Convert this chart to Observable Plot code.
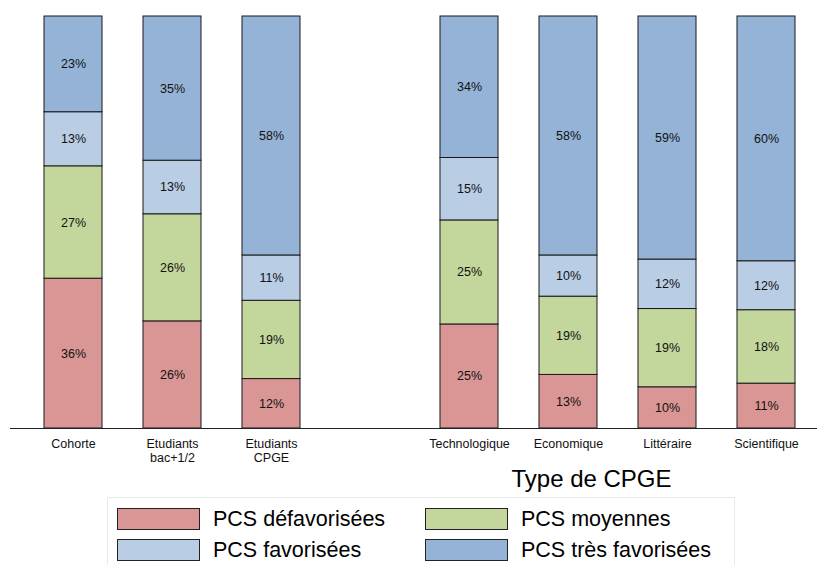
<!DOCTYPE html>
<html>
<head>
<meta charset="utf-8">
<script src="https://cdn.jsdelivr.net/npm/d3@7"></script>
<script src="https://cdn.jsdelivr.net/npm/@observablehq/plot@0.6"></script>
<style>
  body { margin: 0; background: #fff; font-family: "Liberation Sans", Arial, Helvetica, sans-serif; }
  #chart svg { display: block; }
  .legend {
    position: relative;
    margin-left: 107px; margin-top: 2px;
    width: 628px; height: 80px;
    border: 1px solid #e6ecec; box-sizing: border-box;
    display: grid; grid-template-columns: 308px 308px;
    grid-auto-rows: 31px; padding: 10px 0 0 9px;
    font-size: 21.5px; color: #000;
  }
  .legend .item { display: flex; align-items: center; height: 22px; }
  .legend .sw { width: 83px; height: 22px; box-sizing: border-box; border: 1px solid #222; margin-right: 13px; flex: none; }
</style>
</head>
<body>
<div id="chart"></div>
<script>
const categories = ["Cohorte", "Etudiants bac+1/2", "Etudiants CPGE", "Technologique", "Economique", "Littéraire", "Scientifique"];
const tickLabels = ["Cohorte", "Etudiants\nbac+1/2", "Etudiants\nCPGE", "Technologique", "Economique", "Littéraire", "Scientifique"];
const series = ["PCS défavorisées", "PCS moyennes", "PCS favorisées", "PCS très favorisées"];
const colors = ["#D99694", "#C3D69B", "#B9CDE5", "#95B3D7"];
const defavorisees = [36, 26, 12, 25, 13, 10, 11];
const moyennes = [27, 26, 19, 25, 19, 19, 18];
const favorisees = [13, 13, 11, 15, 10, 12, 12];
const tresFavorisees = [23, 35, 58, 34, 58, 59, 60];
const groupTitle = "Type de CPGE";

const values = [defavorisees, moyennes, favorisees, tresFavorisees];
const data = [];
categories.forEach((c, i) => {
  series.forEach((s, j) => data.push({category: c, series: s, value: values[j][i]}));
});

// placeholder slot for the gap between the two groups
const xDomain = [...categories.slice(0, 3), " ", ...categories.slice(3)];
const labelOf = new Map(categories.map((c, i) => [c, tickLabels[i]]));

const chart = Plot.plot({
  width: 817,
  height: 495,
  marginTop: 16,
  marginBottom: 67,
  marginLeft: 10,
  marginRight: 0,
  style: {fontFamily: "'Liberation Sans', Arial, Helvetica, sans-serif", background: "white"},
  x: {domain: xDomain, range: [23.5, 815.5], paddingInner: 0.414, paddingOuter: 0.207, round: false, axis: null},
  y: {axis: null, domain: [0, 1]},
  color: {domain: series, range: colors},
  marks: [
    Plot.barY(data, Plot.stackY({
      x: "category", y: "value", fill: "series", order: series, offset: "normalize",
      stroke: "#1a1a1a", strokeWidth: 1
    })),
    Plot.text(data, Plot.stackY({
      x: "category", y: "value", z: "series", order: series, offset: "normalize",
      text: d => d.value + "%", fontSize: 12.5, fill: "#111"
    })),
    Plot.ruleY([0], {stroke: "#222", strokeWidth: 1}),
    Plot.axisX({
      ticks: categories, tickSize: 0, tickPadding: 10, fontSize: 12.5, lineHeight: 1.12,
      tickFormat: d => labelOf.get(d) ?? "", fill: "#111", label: null
    }),
    Plot.text([groupTitle], {
      x: () => "Economique", frameAnchor: "bottom", dx: 23, dy: 58,
      text: d => d, fontSize: 24, fill: "#000"
    })
  ]
});
document.getElementById("chart").append(chart);

const legend = document.createElement("div");
legend.className = "legend";
series.forEach((s, i) => {
  const item = document.createElement("div");
  item.className = "item";
  const sw = document.createElement("span");
  sw.className = "sw";
  sw.style.background = colors[i];
  const t = document.createElement("span");
  t.textContent = s;
  item.append(sw, t);
  legend.append(item);
});
document.body.append(legend);
</script>
</body>
</html>
